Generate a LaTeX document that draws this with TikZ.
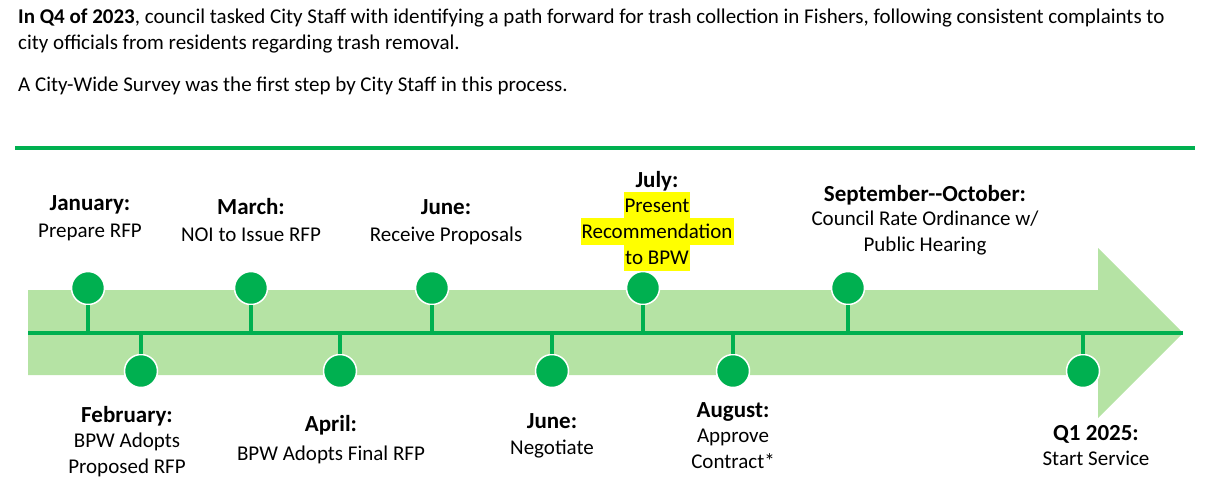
\documentclass[tikz,border=0pt]{standalone}
\usepackage{fontspec}
\setmainfont{Carlito}
\usepackage{xcolor}
\definecolor{officegreen}{RGB}{0,176,80}
\definecolor{palegreen}{RGB}{181,227,164}
\definecolor{marker}{RGB}{255,255,0}
\usepackage{tikz}
\usetikzlibrary{positioning}

\begin{document}
\begin{tikzpicture}[x=1pt,y=-1pt,
    dot/.style={circle,fill=officegreen,draw=white,line width=1.5pt,minimum size=33pt,inner sep=0pt},
    stem/.style={officegreen,line width=3.5pt},
    month/.style={anchor=base,font=\fontsize{23}{26}\selectfont\bfseries},
    task/.style={anchor=north,inner sep=0pt,align=center,execute at begin node=\strut,font=\fontsize{21}{26}\selectfont},
    hl/.style={anchor=base,fill=marker,inner xsep=1pt,inner ysep=0pt,text height=20pt,text depth=6.5pt,font=\fontsize{21}{26}\selectfont}]
\useasboundingbox (0,0) rectangle (1210,488);
% intro text
\node [anchor=north west,inner sep=0,align=left,execute at begin node=\strut,font=\fontsize{21}{26.5}\selectfont] (intro) at (18,8.5)
    {\textbf{In Q4 of 2023}, council tasked City Staff with identifying a path forward for trash collection in Fishers, following consistent complaints to\\
     city officials from residents regarding trash removal.};
\node [anchor=base west,inner sep=0,font=\fontsize{21}{26.5}\selectfont] (survey) at (18,91)
    {A City-Wide Survey was the first step by City Staff in this process.};
\draw [officegreen,line width=4pt] (15,148) -- (1195,148);
% arrow
\fill [palegreen] (28,290) -- (1098,290) -- (1098,248) -- (1183,333) -- (1098,418) -- (1098,375) -- (28,375) -- cycle;
\coordinate (start) at (28,333);
\coordinate (end) at (1183,333);
\draw [officegreen,line width=4pt] (start) -- (end);
% milestones
\coordinate (jan) at (88,333);   \node [dot] (jandot) at (88,288) {};
\coordinate (feb) at (141,333);  \node [dot] (febdot) at (141,371) {};
\coordinate (mar) at (251,333);  \node [dot] (mardot) at (251,288) {};
\coordinate (apr) at (340,333);  \node [dot] (aprdot) at (340,371) {};
\coordinate (jun) at (432,333);  \node [dot] (jundot) at (432,288) {};
\coordinate (neg) at (552,333);  \node [dot] (negdot) at (552,371) {};
\coordinate (jul) at (643,333);  \node [dot] (juldot) at (643,288) {};
\coordinate (aug) at (733,333);  \node [dot] (augdot) at (733,371) {};
\coordinate (sep) at (848,333);  \node [dot] (sepdot) at (848,288) {};
\coordinate (q1) at (1083,333);  \node [dot] (q1dot) at (1083,371) {};
\foreach \m in {jan,feb,mar,apr,jun,neg,jul,aug,sep,q1}
    \draw [stem] (\m dot) -- (\m);
% labels above
\node [month] (janlbl) at (90,210) {January:};
\node [task] (jantxt) at (90,219) {Prepare RFP};
\node [month] (marlbl) at (251,214) {March:};
\node [task] (martxt) at (251,223) {NOI to Issue RFP};
\node [month] (junlbl) at (446,214) {June:};
\node [task] (juntxt) at (446,223) {Receive Proposals};
\node [month] (jullbl) at (657,187) {July:};
\node [hl] (julone) at (657,212) {Present};
\node [hl] (jultwo) at (657,238) {Recommendation};
\node [hl] (julthree) at (657,264) {to BPW};
\node [month] (seplbl) at (925,201) {September-{}-October:};
\node [task] (septxt) at (925,211) {Council Rate Ordinance w/\\Public Hearing};
% labels below
\node [month] (feblbl) at (127,422) {February:};
\node [task] (febtxt) at (127,433) {BPW Adopts\\Proposed RFP};
\node [month] (aprlbl) at (331,431) {April:};
\node [task] (aprtxt) at (331,442) {BPW Adopts Final RFP};
\node [month] (neglbl) at (552,428) {June:};
\node [task] (negtxt) at (552,436) {Negotiate};
\node [month] (auglbl) at (733,417) {August:};
\node [task] (augtxt) at (733,429) {Approve\\Contract*};
\node [month] (q1lbl) at (1096,440) {Q1 2025:};
\node [task] (q1txt) at (1096,447) {Start Service};
\end{tikzpicture}
\end{document}
